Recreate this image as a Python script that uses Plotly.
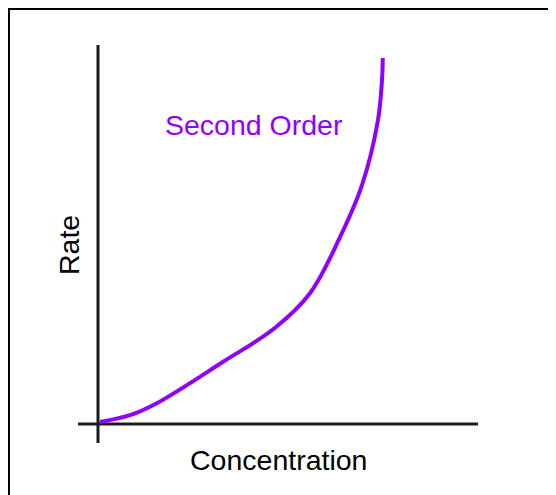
import plotly.graph_objects as go

# Data (arbitrary units)
concentration = [0.05, 0.8, 1.47, 3.12, 4.42, 5.3, 6.05, 6.6, 7.0, 7.1, 7.12]
rate = [0.05, 0.22, 0.52, 1.55, 2.4, 3.27, 4.67, 5.97, 7.6, 8.6, 9.15]

curve_label = "Second Order"
x_title = "Concentration"
y_title = "Rate"

W, H = 548, 487          # page body has an 8px margin
scale = 40.0             # px per unit
ox, oy = 90, 416         # origin in figure pixels

purple = "#8F00FF"
axis_col = "#1a1a1a"
font = "Liberation Sans, Arial, sans-serif"

fig = go.Figure()
fig.add_trace(go.Scatter(
    x=concentration, y=rate, mode="lines",
    line=dict(color=purple, width=4, shape="spline", smoothing=1.0),
    hoverinfo="skip", showlegend=False,
))

# axis lines
fig.add_shape(type="line", xref="x", yref="y", x0=0, x1=0, y0=-0.475, y1=9.475,
              line=dict(color=axis_col, width=3), layer="below")
fig.add_shape(type="line", xref="x", yref="y", x0=-0.5, x1=9.5, y0=0, y1=0,
              line=dict(color=axis_col, width=3), layer="below")

# frame (only top/left visible)
fig.add_shape(type="rect", xref="paper", yref="paper",
              x0=0, y1=1, x1=1.1, y0=-0.1,
              line=dict(color="black", width=4))

fig.add_annotation(x=3.9, y=7.475, text=curve_label, showarrow=False,
                   font=dict(family=font, size=28.5, color=purple))
fig.add_annotation(x=4.5, y=-0.9, text=x_title, showarrow=False,
                   font=dict(family=font, size=28.5, color="black"))
fig.add_annotation(x=-0.725, y=4.475, text=y_title, showarrow=False, textangle=-90,
                   font=dict(family=font, size=28.5, color="black"))

fig.update_xaxes(range=[-ox / scale, (W - ox) / scale], visible=False)
fig.update_yaxes(range=[(oy - H) / scale, oy / scale], visible=False)
fig.update_layout(width=W, height=H, margin=dict(l=0, r=0, t=0, b=0),
                  paper_bgcolor="white", plot_bgcolor="white")

fig.write_html("out.html")
